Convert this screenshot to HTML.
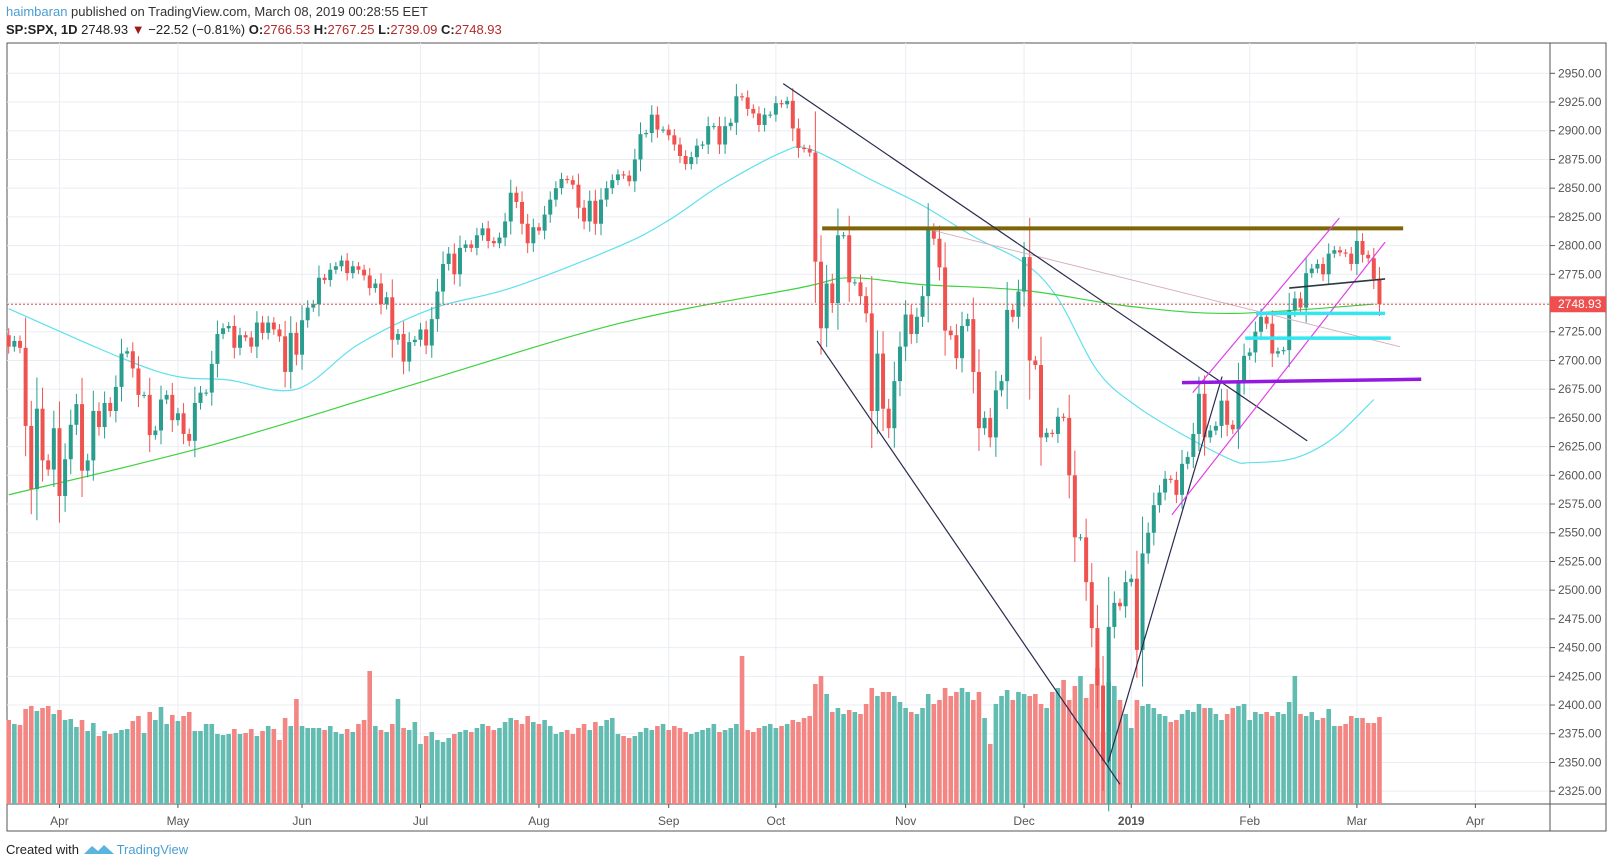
<!DOCTYPE html>
<html><head><meta charset="utf-8"><style>
html,body{margin:0;padding:0;background:#fff;width:1613px;height:868px;overflow:hidden;font-family:"Liberation Sans",sans-serif;}
#hdr1{position:absolute;left:6px;top:4px;font-size:13px;color:#333;}
#hdr2{position:absolute;left:6px;top:22px;font-size:13px;color:#222;font-weight:bold;}
#hdr2 .v{color:#b22b2b;font-weight:normal;}
#hdr2 .n{font-weight:normal;}
#foot{position:absolute;left:6px;top:842px;font-size:13px;color:#222;}
</style></head><body>
<div id="hdr1"><span style="color:#4a9fd0">haimbaran</span> published on TradingView.com, March 08, 2019 00:28:55 EET</div>
<div id="hdr2">SP:SPX, 1D <span class="n">2748.93</span> <span style="color:#a01818">▼</span> <span class="n">−22.52 (−0.81%)</span> O:<span class="v">2766.53</span> H:<span class="v">2767.25</span> L:<span class="v">2739.09</span> C:<span class="v">2748.93</span></div>
<div id="foot">Created with <span style="color:#4a9fd0"><svg width="34" height="14" viewBox="0 0 34 14" style="vertical-align:-2px"><path d="M1 12 L9 4 L15 9 L21 3 L31 12 Z" fill="#5ab4e0"/></svg>TradingView</span></div>
<svg id="chart" width="1613" height="868" style="position:absolute;left:0;top:0"></svg>
<script>
const closes=[2712,2717,2711,2643,2588,2658,2613,2605,2641,
2582,2614,2644,2662,2604,2613,2656,2642,2663,2656,2677,2706,2708,2693,2670,2670,2635,2639,2666,2670,2648,
2654,2636,2630,2663,2672,2672,2697,2723,2728,2730,2711,2722,2720,2712,2733,2724,2733,2727,2721,2690,2724,2705,
2735,2746,2749,2772,2770,2779,2782,2787,2776,2782,2779,2774,2763,2767,2749,2755,2718,2723,2699,2716,2718,
2727,2713,2736,2760,2784,2793,2775,2798,2801,2798,2809,2815,2804,2802,2807,2821,2846,2838,2819,2802,2816,
2813,2827,2840,2850,2858,2857,2853,2833,2821,2839,2819,2840,2850,2857,2862,2861,2856,2875,2897,2898,2914,2901,2901,
2896,2888,2878,2871,2877,2887,2888,2904,2904,2888,2904,2907,2930,2929,2919,2915,2905,2914,2914,
2924,2923,2926,2902,2885,2884,2881,2786,2728,2767,2750,2809,2809,2768,2768,2756,2741,2656,2706,2658,2641,2682,2712,
2740,2723,2738,2756,2814,2806,2781,2726,2722,2702,2730,2736,2690,2641,2650,2633,2674,2682,2744,2738,2760,
2790,2700,2696,2633,2637,2636,2651,2650,2600,2546,2546,2507,2467,2417,2351,2468,2489,2486,2507,
2510,2448,2532,2550,2574,2585,2597,2596,2583,2610,2616,2636,2671,2633,2639,2643,2665,2644,2640,2681,2704,
2707,2725,2738,2732,2706,2708,2709,2744,2754,2746,2776,2780,2784,2775,2793,2796,2794,2793,2784,
2804,2792,2789,2771,2749];
const firstOpen=2722;
const volumes=[84,80,79,95,98,93,96,98,90,94,84,85,77,84,73,81,68,73,70,71,74,75,83,88,71,92,84,97,80,89,83,88,92,73,73,80,80,70,69,70,75,70,71,75,68,73,78,75,64,86,78,105,78,76,76,
76,74,78,72,70,75,72,80,84,133,78,74,72,80,105,76,74,82,
60,68,72,64,62,66,70,72,74,72,76,80,78,74,76,82,86,84,80,88,82,
80,84,78,70,72,74,70,76,80,74,82,78,84,86,70,68,66,68,72,76,74,78,80,
74,78,76,72,70,72,74,76,80,72,74,76,80,148,74,72,76,78,80,
76,78,80,84,82,86,88,120,128,110,92,96,90,94,92,90,100,116,108,112,112,108,102,
96,92,90,96,110,100,104,116,108,112,116,112,104,112,86,60,100,108,114,104,112,
110,108,110,100,96,112,116,124,104,118,128,106,120,136,72,122,118,104,90,
76,104,98,100,96,90,88,82,84,90,94,92,100,96,96,90,84,90,96,98,100,
84,92,90,92,88,92,90,102,128,90,88,92,84,86,95,78,78,80,88,
86,86,81,81,87];
const priceTicks=[2950,2925,2900,2875,2850,2825,2800,2775,2750,2725,2700,2675,2650,2625,2600,2575,2550,2525,2500,2475,2450,2425,2400,2375,2350,2325];
const monthLabels=["Apr","May","Jun","Jul","Aug","Sep","Oct","Nov","Dec","2019","Feb","Mar","Apr"];
const monthIdx=[9,30,52,73,94,117,136,159,180,199,220,239,260];
const ma50Idx=[0,26,39,51,62,75,89,108,117,126,137,142,153,162,171,180,186,193,200,209,217,220,228,235,242];
const ma50Val=[2745,2691,2683,2675,2714,2745,2763,2799,2822,2852,2881,2884,2857,2835,2808,2785,2754,2691,2660,2633,2613,2611,2615,2633,2666];
const ma200Idx=[0,35,71,108,140,149,162,180,199,217,242];
const ma200Val=[2583,2625,2678,2732,2763,2772,2766,2761,2747,2741,2749];
const lastPrice=2748.93;

const svg=document.getElementById('chart');const NS='http://www.w3.org/2000/svg';
const X0=8.7,XS=5.641,PL=7,PR=1550,PT=43,PB=804;
const x=i=>X0+i*XS;
const y=p=>73.3+(2950-p)*1.1486;
function mk(t,a,parent){const e=document.createElementNS(NS,t);for(const k in a)e.setAttribute(k,a[k]);(parent||svg).appendChild(e);return e;}
const frame=mk('rect',{x:PL,y:PT,width:1606-PL,height:831-PT,fill:'none',stroke:'#555','stroke-width':1});


priceTicks.forEach(p=>{
 const g=mk('line',{x1:PL,x2:PR,y1:y(p),y2:y(p),stroke:'#e9edf2','stroke-width':1});
 
 
 const tk=mk('line',{x1:PR,x2:PR+5,y1:y(p),y2:y(p),stroke:'#555'});
 
 
 const t=mk('text',{x:PR+8,y:y(p)+4,'font-size':12,fill:'#555','font-family':'Liberation Sans, sans-serif'});
 t.textContent=p.toFixed(2);
 
 
});
monthLabels.forEach((m,k)=>{
 const xx=x(monthIdx[k]);
 const g=mk('line',{x1:xx,x2:xx,y1:PT,y2:PB,stroke:'#e9edf2'});
 
 
 const tk=mk('line',{x1:xx,x2:xx,y1:PB,y2:PB+4,stroke:'#555'});
 
 
 const t=mk('text',{x:xx,y:PB+21,'font-size':12,fill:'#555','text-anchor':'middle','font-weight':m==='2019'?'bold':'normal','font-family':'Liberation Sans, sans-serif'});
 t.textContent=m;
 
 
});
const ax1=mk('line',{x1:PR,x2:PR,y1:PT,y2:831,stroke:'#555'});


const ax2=mk('line',{x1:PL,x2:1606,y1:PB,y2:PB,stroke:'#555'});


closes.forEach((c,i)=>{
 const o=i?closes[i-1]:firstOpen;const up=c>=o;
 const r=mk('rect',{x:x(i)-2.3,y:PB-volumes[i],width:4.6,height:volumes[i],fill:up?'#62bcb2':'#f38583'});
 
 
});
function curve(ix,vals,color,name){
 const P=ix.map((i,k)=>[x(i),y(vals[k])]);
 let d='M'+P[0][0].toFixed(1)+','+P[0][1].toFixed(1);
 for(let k=0;k<P.length-1;k++){
  const p0=P[Math.max(0,k-1)],p1=P[k],p2=P[k+1],p3=P[Math.min(P.length-1,k+2)];
  const c1=[p1[0]+(p2[0]-p0[0])/6,p1[1]+(p2[1]-p0[1])/6];
  const c2=[p2[0]-(p3[0]-p1[0])/6,p2[1]-(p3[1]-p1[1])/6];
  d+=' C'+c1.map(v=>v.toFixed(1)).join(',')+' '+c2.map(v=>v.toFixed(1)).join(',')+' '+p2.map(v=>v.toFixed(1)).join(',');
 }
 const l=mk('path',{d:d,fill:'none',stroke:color,'stroke-width':1.2});
 
 
}
curve(ma50Idx,ma50Val,'#5fe0ee','ma50-line');
curve(ma200Idx,ma200Val,'#3ed23e','ma200-line');
closes.forEach((c,i)=>{
 const o=i?closes[i-1]:firstOpen;const up=c>=o;const col=up?'#2a9d8f':'#ef5350';
 const top=y(Math.max(o,c)),bot=y(Math.min(o,c));const h=Math.max(1,bot-top);
 const w=mk('line',{x1:x(i),x2:x(i),y1:top-h*0.35-3,y2:bot+h*0.35+3,stroke:col,'stroke-width':1});
 
 
 const b=mk('rect',{x:x(i)-2,y:top,width:4,height:h,fill:col});
 
 
});
function seg(i1,p1,i2,p2,color,w,name){
 const l=mk('line',{x1:x(i1),y1:y(p1),x2:x(i2),y2:y(p2),stroke:color,'stroke-width':w});
 
 
}
seg(162.8,2814.5,246.6,2712,'#d8b0c0',1,'pink-trendline');
seg(144.2,2815,247.2,2815,'#7d6508',4,'resistance-line');
seg(137.3,2941,230.2,2630,'#2a2a50',1.2,'downtrend-line');
seg(143.3,2717,197.0,2331,'#2a2a50',1.2,'wedge-lower-line');
seg(194.9,2350,215.1,2686,'#2a2a50',1.2,'recovery-line');
seg(209.9,2672,235.9,2824,'#e040e8',1.2,'channel-upper');
seg(206.2,2565.6,244.0,2803,'#e040e8',1.2,'channel-lower');
seg(208.0,2680.7,250.4,2683.6,'#9418e0',3.5,'purple-support');
seg(221.1,2741,244.0,2741,'#33e6f0',3.5,'cyan-support-1');
seg(219.2,2719.4,245.0,2719.4,'#33e6f0',3.5,'cyan-support-2');
seg(227.0,2763,244.0,2771,'#2a3a40',1.6,'neckline');
const lp=mk('line',{x1:PL,x2:PR,y1:y(lastPrice),y2:y(lastPrice),stroke:'#e05050','stroke-dasharray':'2,2','stroke-width':1});


const lb=mk('rect',{x:PR,y:y(lastPrice)-8,width:56,height:16,fill:'#ef4f4f'});


const lt=mk('text',{x:PR+8,y:y(lastPrice)+4,'font-size':12,fill:'#fff','font-family':'Liberation Sans, sans-serif'});
lt.textContent=lastPrice.toFixed(2);


</script>
</body></html>
